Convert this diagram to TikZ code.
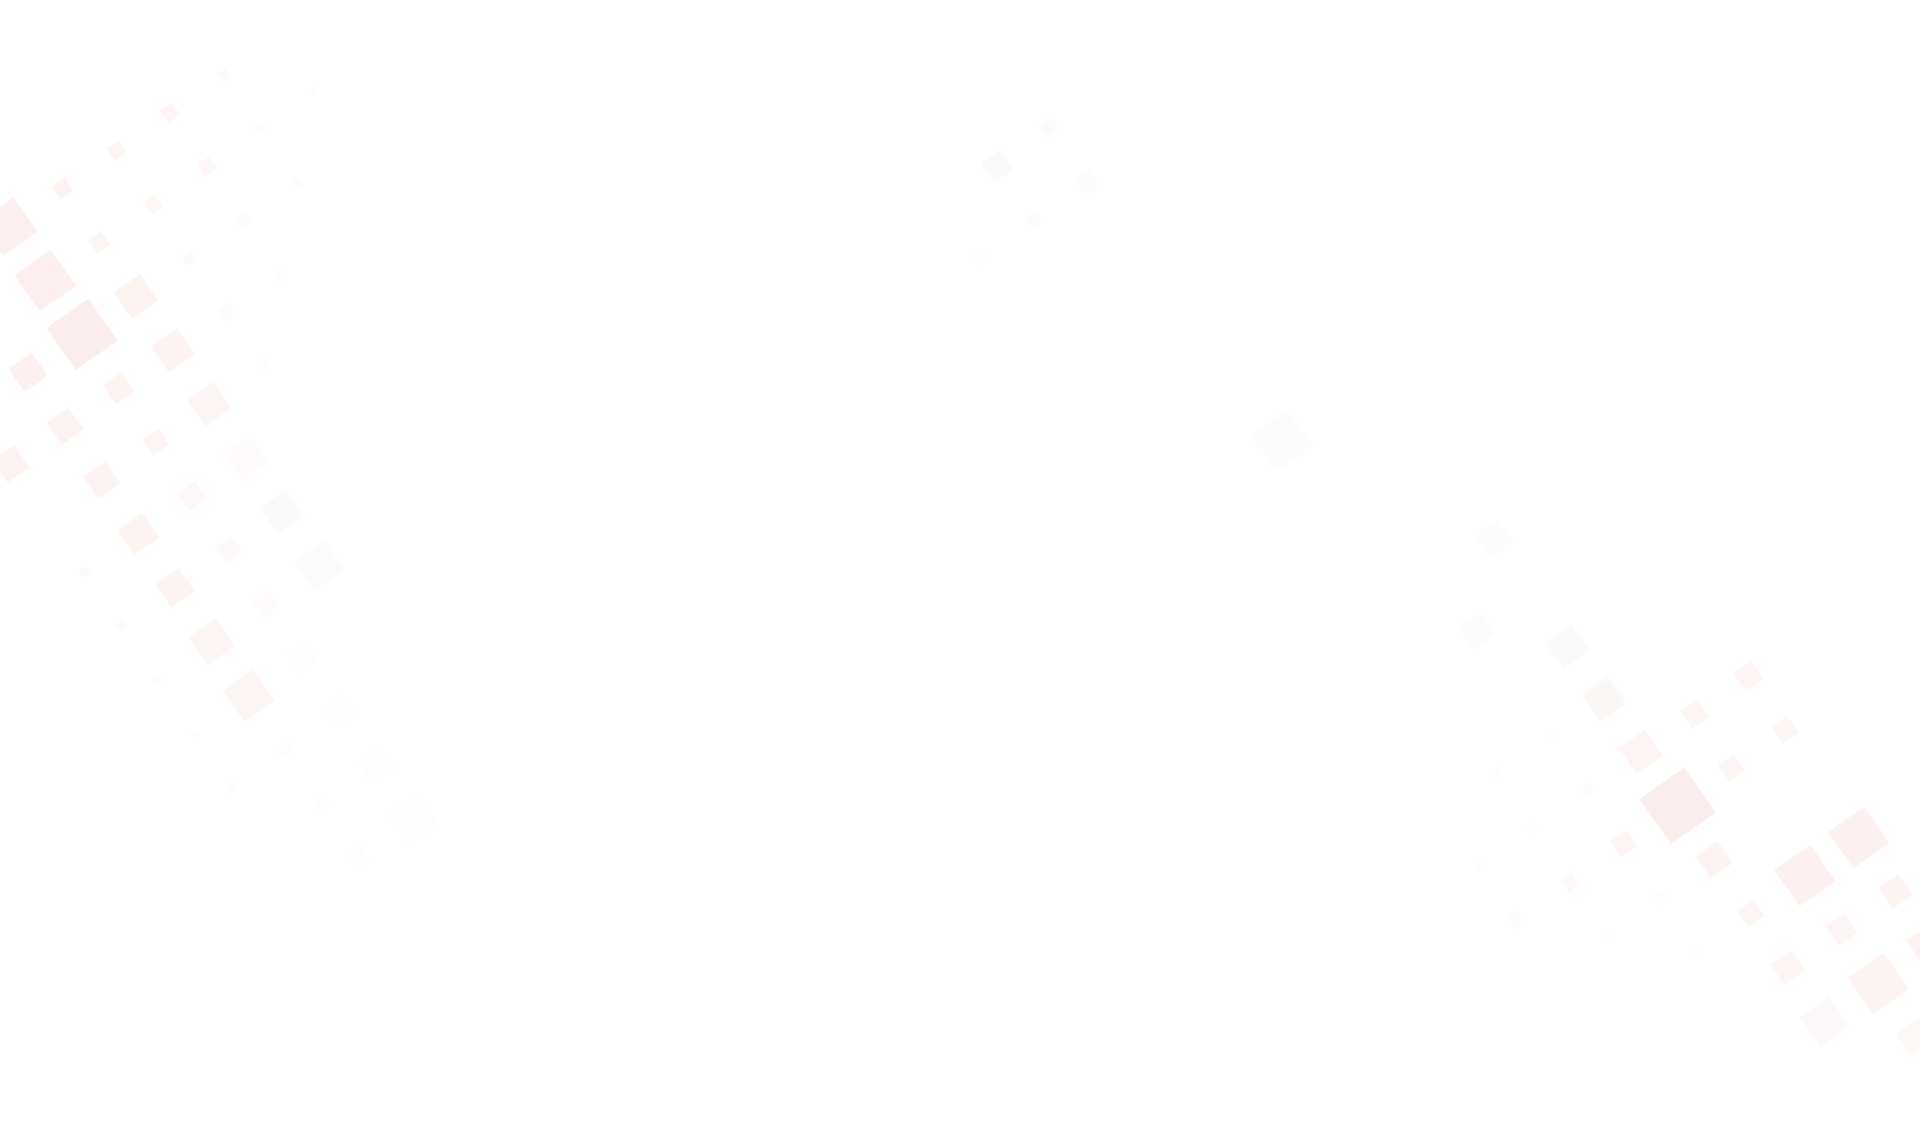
\documentclass[tikz,border=0pt]{standalone}
\definecolor{sqc}{RGB}{249,222,217}
\definecolor{gqc}{RGB}{238,232,228}
\tikzset{
  sqshape/.style={fill=sqc},
  gqshape/.style={fill=gqc},
}
\begin{document}
\begin{tikzpicture}[x=1.2245pt,y=-1.2245pt]
\fill[white] (0,0) rectangle (1568,931.8);
\useasboundingbox (0,0) rectangle (1568,931.8);
\begin{scope}
\clip (0,0) rectangle (1568,931.8);
% left cluster: lattice base (67,273), u=(44,-31), v=(30,44)
\foreach \i/\j/\b/\o in {
 0/-2/47/0.85, 0/-1/50/0.85, 0/0/58/0.95, -1/0/32/0.75, 1/0/36/0.7,
 1/1/36/0.6, -1/1/30/0.7, 0/1/26/0.6, 1/2/36/0.5, -2/1/30/0.7,
 -1/2/30/0.6, 0/2/22/0.5, 1/3/36/0.2, -1/3/34/0.6, 0/3/24/0.4,
 1/4/36/0.12, -1/4/32/0.6, 0/4/22/0.3, 1/5/40/0.08, -1/5/38/0.55,
 0/5/22/0.2, -1/6/42/0.5, 0/6/24/0.12, 0/7/26/0.1, 0/8/30/0.08,
 0/9/40/0.08, -1/9/16/0.08,
 1/-2/18/0.6, 2/-2/16/0.5, 3/-2/16/0.45, 4/-2/10/0.3,
 1/-1/18/0.5, 2/-1/16/0.4, 3/-1/16/0.35, 4/-1/10/0.2, 5/-1/8/0.15,
 2/0/12/0.3, 3/0/12/0.25, 4/0/10/0.15, 2/1/14/0.15, 3/1/12/0.1, 2/2/12/0.1,
 -2/3/10/0.3, -2/4/10/0.25, -2/5/8/0.2, -2/6/8/0.15, -2/7/8/0.1,
 -1/7/14/0.08, -1/8/14/0.06}
{
 \pgfmathsetmacro{\cx}{67+44*\i+30*\j}
 \pgfmathsetmacro{\cy}{273-31*\i+44*\j}
 \pgfmathsetmacro{\s}{\b/1.393/2}
 \fill[sqshape, opacity=0.55*\o, shift={(\cx,\cy)}, rotate=35] (-\s,-\s) rectangle (\s,\s);
}
% right cluster: lattice base (1370,658)
\foreach \i/\j/\b/\o in {
 0/0/62/0.95, 0/1/30/0.6, -1/0/22/0.55, 0/-1/36/0.5, 0/-2/36/0.25,
 1/-1/24/0.45, 1/0/22/0.5, 2/-1/24/0.45, 2/0/22/0.45,
 1/2/50/0.75, 2/2/50/0.75, 2/3/28/0.6, 1/3/26/0.55, 0/2/22/0.5,
 0/3/28/0.45, 1/4/50/0.6, 0/4/40/0.35, 2/4/42/0.7, 1/5/30/0.4,
 -2/0/16/0.3, -3/0/14/0.2, -1/-1/10/0.15, -2/-1/10/0.12, -3/-1/10/0.1,
 -1/-2/10/0.1, -2/-2/10/0.08, -1/1/12/0.1, -2/1/10/0.08, -1/2/10/0.06}
{
 \pgfmathsetmacro{\cx}{1370+44*\i+30*\j}
 \pgfmathsetmacro{\cy}{658-31*\i+44*\j}
 \pgfmathsetmacro{\s}{\b/1.393/2}
 \fill[sqshape, opacity=0.55*\o, shift={(\cx,\cy)}, rotate=35] (-\s,-\s) rectangle (\s,\s);
}
% very faint greyish squares
\foreach \cx/\cy/\b/\o in {
 1280/528/36/0.2, 1206/515/30/0.12, 1220/440/30/0.12, 1047/360/50/0.1,
 814/136/26/0.2, 857/104/16/0.15, 888/149/20/0.12, 844/180/14/0.1,
 802/210/12/0.07, 230/418/36/0.12, 261/462/40/0.1,
 1310/572/34/0.15}
{
 \pgfmathsetmacro{\s}{\b/1.393/2}
 \fill[gqshape, opacity=\o, shift={(\cx,\cy)}, rotate=35] (-\s,-\s) rectangle (\s,\s);
}
\end{scope}
\end{tikzpicture}
\end{document}
